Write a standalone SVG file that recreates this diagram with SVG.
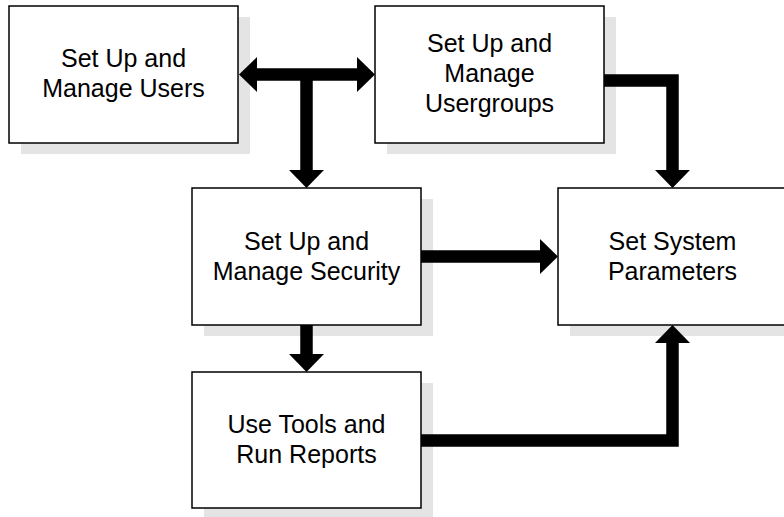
<svg xmlns="http://www.w3.org/2000/svg" width="784" height="517" viewBox="0 0 784 517">
  <style>
    .shadow { fill: #e4e4e4; }
    .box { fill: #ffffff; stroke: #000000; stroke-width: 1.5; }
    .label { font-family: "Liberation Sans", Arial, sans-serif; font-size: 25px; fill: #000000; text-anchor: middle; }
    .flow { fill: none; stroke: #000000; stroke-width: 12.5; stroke-linejoin: miter; stroke-linecap: butt; }
  </style>
  <defs>
    <marker id="head" markerUnits="userSpaceOnUse" viewBox="0 0 18 35" refX="0" refY="17.5" markerWidth="18" markerHeight="35" orient="auto-start-reverse">
      <path d="M0,0 L18,17.5 L0,35 Z" fill="#000000"/>
    </marker>
  </defs>
  <rect width="784" height="517" fill="#ffffff"/>

  <g id="manage-users">
    <rect class="shadow" x="21" y="17" width="229" height="137"/>
    <rect class="box" x="9" y="6" width="229" height="137"/>
    <text class="label" x="123.5" y="67">Set Up and</text>
    <text class="label" x="123.5" y="97">Manage Users</text>
  </g>

  <g id="manage-usergroups">
    <rect class="shadow" x="387" y="17" width="229" height="137"/>
    <rect class="box" x="375" y="6" width="229" height="137"/>
    <text class="label" x="489.5" y="52">Set Up and</text>
    <text class="label" x="489.5" y="82">Manage</text>
    <text class="label" x="489.5" y="112">Usergroups</text>
  </g>

  <g id="manage-security">
    <rect class="shadow" x="204" y="199" width="229" height="137"/>
    <rect class="box" x="192" y="188" width="229" height="137"/>
    <text class="label" x="306.5" y="250">Set Up and</text>
    <text class="label" x="306.5" y="280">Manage Security</text>
  </g>

  <g id="system-parameters">
    <rect class="shadow" x="570" y="199" width="229" height="137"/>
    <rect class="box" x="558" y="188" width="229" height="137"/>
    <text class="label" x="672.5" y="250">Set System</text>
    <text class="label" x="672.5" y="280">Parameters</text>
  </g>

  <g id="tools-reports">
    <rect class="shadow" x="204" y="383" width="229" height="137"/>
    <rect class="box" x="192" y="372" width="229" height="136"/>
    <text class="label" x="306.5" y="433">Use Tools and</text>
    <text class="label" x="306.5" y="463">Run Reports</text>
  </g>

  <g id="connectors">
    <path class="flow" d="M257,74.5 H357" marker-start="url(#head)" marker-end="url(#head)"/>
    <path class="flow" d="M306.5,74.5 V170" marker-end="url(#head)"/>
    <path class="flow" d="M604,80.5 H672.5 V170" marker-end="url(#head)"/>
    <path class="flow" d="M421,256.5 H540" marker-end="url(#head)"/>
    <path class="flow" d="M306.5,325 V354" marker-end="url(#head)"/>
    <path class="flow" d="M421,440.5 H672.5 V343" marker-end="url(#head)"/>
  </g>
</svg>
